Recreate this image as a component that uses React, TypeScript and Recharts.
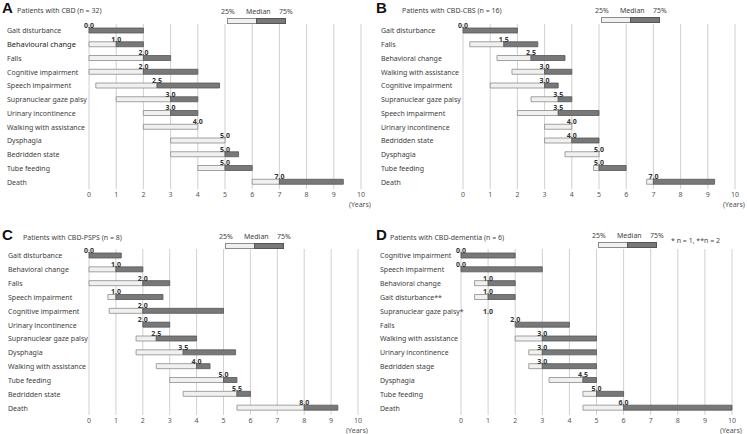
import React from "react";
import { ComposedChart, Bar, Line, XAxis, YAxis, CartesianGrid, LabelList } from "recharts";

const yearTicks = [0, 1, 2, 3, 4, 5, 6, 7, 8, 9, 10];

const labelsA = ["Gait disturbance", "Behavioural change", "Falls", "Cognitive impairment", "Speech impairment", "Supranuclear gaze palsy", "Urinary incontinence", "Walking with assistance", "Dysphagia", "Bedridden state", "Tube feeding", "Death"];
const q1A = [0, 0, 0, 0, 0.25, 1, 2, 2, 3, 3, 4, 6];
const medA = [0, 1, 2, 2, 2.5, 3, 3, 4, 5, 5, 5, 7];
const q3A = [2, 2, 3, 4, 4.8, 4, 4, 4, 5, 5.5, 6, 9.35];

const labelsB = ["Gait disturbance", "Falls", "Behavioral change", "Walking with assistance", "Cognitive impairment", "Supranuclear gaze palsy", "Speech impairment", "Urinary incontinence", "Bedridden state", "Dysphagia", "Tube feeding", "Death"];
const q1B = [0, 0.25, 1.25, 1.8, 1, 2.5, 2, 3, 3, 3.75, 4.8, 6.75];
const medB = [0, 1.5, 2.5, 3, 3, 3.5, 3.5, 4, 4, 5, 5, 7];
const q3B = [2, 2.75, 3.75, 4, 3.5, 4, 5, 4, 5, 5, 6, 9.25];

const labelsC = ["Gait disturbance", "Behavioral change", "Falls", "Speech impairment", "Cognitive impairment", "Urinary incontinence", "Supranuclear gaze palsy", "Dysphagia", "Walking with assistance", "Tube feeding", "Bedridden state", "Death"];
const q1C = [0, 0, 0, 0.7, 0.75, 2, 1.75, 1.75, 2.5, 3, 3.5, 5.5];
const medC = [0, 1, 2, 1, 2, 2, 2.5, 3.5, 4, 5, 5.5, 8];
const q3C = [1.2, 2, 3, 2.75, 5, 3, 4, 5.45, 4.5, 5.5, 6, 9.25];

const labelsD = ["Cognitive impairment", "Speech impairment", "Behavioral change", "Gait disturbance**", "Supranuclear gaze palsy*", "Falls", "Walking with assistance", "Urinary incontinence", "Bedridden stage", "Dysphagia", "Tube feeding", "Death"];
const q1D = [0, 0, 0.5, 0.5, 1, 2, 2, 2.5, 2.5, 3.25, 4.5, 4.5];
const medD = [0, 0, 1, 1, 1, 2, 3, 3, 3, 4.5, 5, 6];
const q3D = [2, 3, 2, 2, 1, 4, 5, 5, 5, 5, 6, 10];

const FONT = "'Noto Sans', 'Liberation Sans', sans-serif";
const LIGHT = "#f0f0f0";
const DARK = "#787878";

function buildRows(labels: string[], q1: number[], med: number[], q3: number[]) {
  return labels.map((name, i) => ({
    name,
    base: q1[i],
    low: med[i] - q1[i],
    high: q3[i] - med[i],
    med: med[i],
    empty: q1[i] === q3[i],
  }));
}

interface PanelProps {
  letter: string;
  title: string;
  titleX: number;
  labels: string[];
  q1: number[];
  med: number[];
  q3: number[];
  left: number;
  top: number;
  width: number;
  margin: { top: number; right: number };
  yWidth: number;
  xHeight: number;
  labelX: number;
  legendX: number;
  legendY: number;
  note?: string;
}

function Panel(p: PanelProps) {
  const rows = buildRows(p.labels, p.q1, p.med, p.q3);
  const upper = p.letter === "A" || p.letter === "B";
  const RowTick = (t: any) => {
    const big = t.payload.value === "Behavioural change";
    return (
      <text x={p.labelX} y={t.y} dy={2.5} textAnchor="start" fontSize={big ? 7.4 : 7} fill={big ? "#222" : "#404040"} fontFamily={FONT}>
        {t.payload.value}
      </text>
    );
  };
  // median value printed above the bar, centred on the median
  const MedianLabel = (props: any) => {
    const { x, y, value, index } = props;
    const lift = rows[index] && rows[index].empty ? -2.5 : 3;
    return (
      <text x={Number(x)} y={Number(y) - lift} textAnchor="middle" fontSize={7} fontWeight="bold" fill="#333" fontFamily={FONT}>
        {Number(value).toFixed(1)}
      </text>
    );
  };
  return (
    <div style={{ position: "absolute", left: p.left, top: p.top, width: p.width, height: 217, fontFamily: FONT }}>
      <div style={{ position: "absolute", left: 2, top: upper ? 0 : 10, fontFamily: "'Liberation Sans', Arial, sans-serif", fontWeight: "bold", fontSize: 15, lineHeight: "16px", color: "#111" }}>
        {p.letter}
      </div>
      <div style={{ position: "absolute", left: p.titleX, top: upper ? 6 : 16, fontSize: 7, color: "#444", whiteSpace: "nowrap" }}>
        {p.title}
      </div>
      <div style={{ position: "absolute", left: p.legendX - 6, top: p.legendY - 11, fontSize: 7, color: "#444", whiteSpace: "nowrap" }}>
        <span style={{ position: "absolute", left: 0 }}>25%</span>
        <span style={{ position: "absolute", left: 25 }}>Median</span>
        <span style={{ position: "absolute", left: 58 }}>75%</span>
      </div>
      <div style={{ position: "absolute", left: p.legendX, top: p.legendY, width: 28, height: 4, background: LIGHT, border: "1px solid #8c8c8c" }} />
      <div style={{ position: "absolute", left: p.legendX + 29, top: p.legendY, width: 28, height: 4, background: DARK, border: "1px solid #555" }} />
      {p.note && (
        <div style={{ position: "absolute", left: p.legendX + 73, top: p.legendY - 6, fontSize: 7, color: "#444", whiteSpace: "nowrap" }}>
          {p.note}
        </div>
      )}
      <div style={{ position: "absolute", left: p.width - p.margin.right - 12, top: 217 - (upper ? 17 : 8), fontSize: 7, color: "#555" }}>
        (Years)
      </div>
      <ComposedChart
        width={p.width}
        height={217}
        data={rows}
        layout="vertical"
        margin={{ top: p.margin.top, right: p.margin.right, bottom: 0, left: 0 }}
        barSize={5}
        style={{ position: "absolute", left: 0, top: 0 }}
      >
        <CartesianGrid horizontal={false} stroke="#c4c4c4" strokeWidth={0.8} />
        <XAxis
          type="number"
          domain={[0, 10]}
          ticks={yearTicks}
          axisLine={false}
          tickLine={false}
          tickSize={0}
          tickMargin={3}
          height={p.xHeight}
          tick={{ fontSize: 7, fill: "#555", fontFamily: FONT }}
          interval={0}
        />
        <YAxis type="category" dataKey="name" width={p.yWidth} axisLine={false} tickLine={false} tick={RowTick} interval={0} />
        <Bar dataKey="base" stackId="s" fill="transparent" isAnimationActive={false} />
        <Bar dataKey="low" stackId="s" fill={LIGHT} stroke="#8c8c8c" strokeWidth={0.8} isAnimationActive={false} />
        <Bar dataKey="high" stackId="s" fill={DARK} stroke="#555" strokeWidth={0.8} isAnimationActive={false} />
        <Line dataKey="med" stroke="none" dot={false} activeDot={false} isAnimationActive={false}>
          <LabelList dataKey="med" content={MedianLabel} />
        </Line>
      </ComposedChart>
    </div>
  );
}

export default function App() {
  return (
    <div style={{ position: "absolute", left: 0, top: 0, width: 747, height: 434, background: "#fff", overflow: "hidden" }}>
      <Panel letter="A" title="Patients with CBD (n = 32)" titleX={17} labels={labelsA} q1={q1A} med={medA} q3={q3A}
        left={0} top={0} width={374} margin={{ top: 24, right: 13 }} yWidth={89} xHeight={28} labelX={7} legendX={227} legendY={18} />
      <Panel letter="B" title="Patients with CBD-CBS (n = 16)" titleX={28} labels={labelsB} q1={q1B} med={medB} q3={q3B}
        left={374} top={0} width={373} margin={{ top: 24, right: 12 }} yWidth={89} xHeight={28} labelX={7} legendX={227} legendY={17} />
      <Panel letter="C" title="Patients with CBD-PSPS (n = 8)" titleX={23} labels={labelsC} q1={q1C} med={medC} q3={q3C}
        left={0} top={217} width={374} margin={{ top: 32, right: 16 }} yWidth={89} xHeight={19} labelX={8} legendX={225} legendY={26} />
      <Panel letter="D" title="Patients with CBD-dementia (n = 6)" titleX={16} labels={labelsD} q1={q1D} med={medD} q3={q3D}
        left={374} top={217} width={373} margin={{ top: 32, right: 15 }} yWidth={87} xHeight={19} labelX={6} legendX={224} legendY={25}
        note="* n = 1, **n = 2" />
    </div>
  );
}
